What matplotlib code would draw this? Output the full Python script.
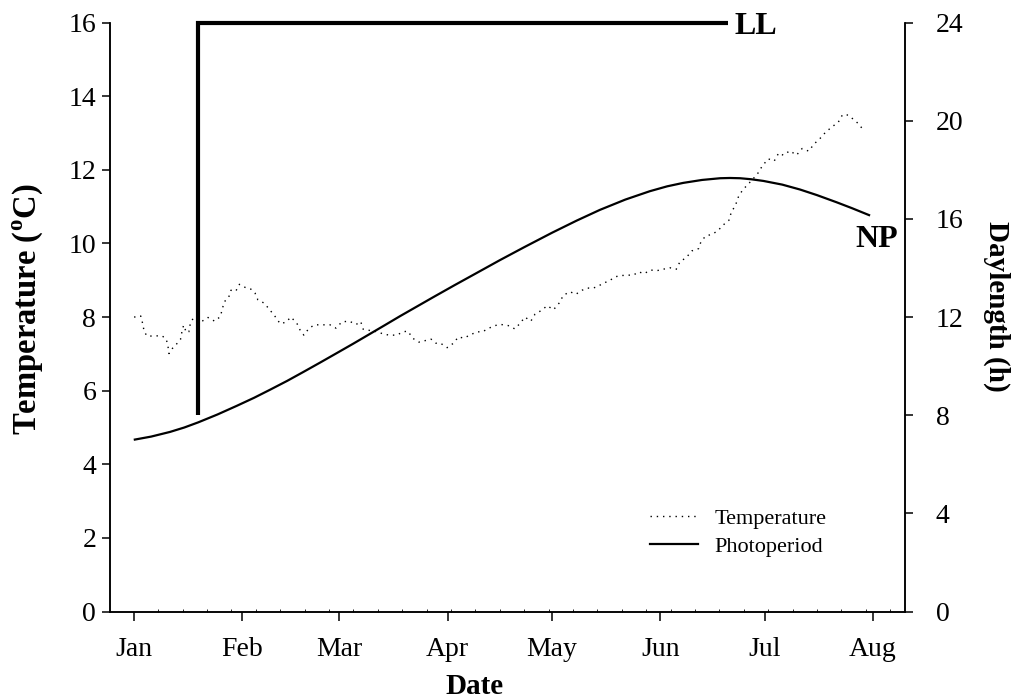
import matplotlib
matplotlib.use("Agg")
import matplotlib.pyplot as plt
from matplotlib.lines import Line2D
from matplotlib.ticker import MultipleLocator

plt.rcParams["font.family"] = ["Liberation Serif", "DejaVu Serif"]
plt.rcParams["mathtext.fontset"] = "custom"
plt.rcParams["mathtext.rm"] = "Liberation Serif:bold"

# Day of year (0 = 1 January) and daily mean water temperature (°C)
temp_day = [0.1, 2.0, 2.6, 3.0, 3.9, 5.9, 8.1, 9.3, 9.8, 10.1, 11.1, 12.3, 13.4, 13.8,
            14.3, 15.1, 15.8, 16.2, 17.2, 19.8, 21.3, 23.2, 24.8, 25.4, 25.9, 27.2, 27.9,
            29.3, 30.3, 32.1, 33.6, 34.8, 35.6, 37.4, 39.0, 40.6, 42.0, 43.6, 45.1, 46.8,
            47.8, 48.8, 50.3, 51.9, 53.9, 56.3, 58.0, 59.7, 61.8, 63.8, 65.1, 65.8, 69.9,
            71.6, 73.3, 75.4, 77.3, 78.6, 80.1, 81.8, 83.6, 85.3, 86.7, 88.0, 89.9, 91.7,
            93.1, 94.7, 96.4, 98.4, 100.0, 101.9, 103.6, 105.3, 107.4, 109.3, 110.8, 112.2,
            113.9, 115.1, 116.9, 118.6, 120.4, 122.1, 123.2, 125.1, 126.8, 128.6, 130.2,
            131.5, 133.0, 134.5, 136.4, 138.3, 140.0, 141.8, 143.3, 144.8, 146.4, 148.2,
            150.0, 151.8, 153.8, 155.6, 156.7, 158.4, 160.1, 162.0, 162.7, 164.0, 165.8,
            167.5, 168.9, 170.7, 171.4, 172.6, 173.4, 174.6, 176.2, 177.6, 179.1, 180.3,
            182.0, 183.7, 185.0, 186.3, 188.2, 190.1, 191.7, 193.6, 195.1, 196.9, 198.5,
            200.3, 202.1, 203.3, 204.9, 206.2, 207.8, 209.4]
temp_val = [8.00, 8.03, 7.81, 7.60, 7.48, 7.49, 7.49, 7.41, 7.22, 7.01, 7.15, 7.27, 7.39, 7.59,
            7.78, 7.58, 7.60, 7.81, 8.00, 7.90, 7.99, 7.89, 8.01, 8.21, 8.41, 8.53, 8.73,
            8.71, 8.89, 8.80, 8.76, 8.65, 8.47, 8.38, 8.20, 8.01, 7.82, 7.86, 8.00, 7.83,
            7.63, 7.51, 7.70, 7.79, 7.79, 7.79, 7.70, 7.87, 7.89, 7.80, 7.88, 7.67, 7.60,
            7.54, 7.51, 7.51, 7.60, 7.62, 7.42, 7.32, 7.36, 7.40, 7.29, 7.29, 7.17, 7.29,
            7.46, 7.43, 7.51, 7.60, 7.60, 7.70, 7.77, 7.80, 7.77, 7.68, 7.83, 8.00,
            7.89, 8.08, 8.18, 8.31, 8.20, 8.39, 8.59, 8.69, 8.62, 8.73, 8.79,
            8.78, 8.83, 8.91, 8.99, 9.10, 9.13, 9.14, 9.14, 9.23, 9.18, 9.28,
            9.26, 9.30, 9.34, 9.30, 9.51, 9.61, 9.80, 9.86, 10.05, 10.20, 10.25,
            10.34, 10.49, 10.63, 10.85, 11.04, 11.26, 11.45, 11.61, 11.75, 11.92, 12.11,
            12.30, 12.24, 12.46, 12.40, 12.52, 12.40, 12.58, 12.51, 12.70, 12.86, 13.03,
            13.17, 13.30, 13.50, 13.49, 13.39, 13.26, 13.07]

# Natural photoperiod (h of daylight)
photo_day = [0, 5, 10.4, 14.5, 18.5, 24, 29.5, 34.5, 39.1, 44, 48.6, 53.5, 58.2, 63, 67.8,
             72, 76.4, 81.2, 86, 92, 98, 105, 112, 120, 127, 133.7, 141, 148, 153,
             157.6, 163, 168.2, 171, 173.9, 177, 180.6, 186, 191.1, 196, 201.6, 206, 211.2]
photo_hours = [7.00, 7.13, 7.32, 7.50, 7.71, 8.03, 8.38, 8.71, 9.04, 9.40, 9.76, 10.15, 10.53,
               10.92, 11.32, 11.67, 12.04, 12.43, 12.82, 13.30, 13.77, 14.32, 14.85, 15.44,
               15.93, 16.37, 16.79, 17.13, 17.33, 17.47, 17.59, 17.66, 17.67, 17.66, 17.62,
               17.55, 17.40, 17.20, 16.97, 16.68, 16.44, 16.14]

# Continuous light (LL) treatment: switched on at day 18.5, lasting until day 170.5
ll_day = [18.5, 18.5, 170.5]
ll_hours = [8, 24, 24]

month_days = [0, 31, 59, 90, 120, 151, 181, 212]
month_labels = ["Jan", "Feb", "Mar", "Apr", "May", "Jun", "Jul", "Aug"]
temp_ticks = [0, 2, 4, 6, 8, 10, 12, 14, 16]
hour_ticks = [0, 4, 8, 12, 16, 20, 24]

fig = plt.figure(figsize=(10.16, 7.0), dpi=100)
ax = fig.add_axes([0.1083, 0.1264, 0.7824, 0.8412])
ax2 = ax.twinx()

ax.plot(temp_day, temp_val, color="black", lw=1.0, linestyle=(0, (1, 3.5)))
ax2.plot(photo_day, photo_hours, color="black", lw=1.6, solid_capstyle="butt")
ax2.plot(ll_day, ll_hours, color="black", lw=3.0, clip_on=False,
         solid_joinstyle="miter", solid_capstyle="butt")

ax2.text(172.4, 23.85, "LL", fontsize=23, fontweight="bold", ha="left", va="center")
ax2.text(206.9, 15.17, "NP", fontsize=23, fontweight="bold", ha="left", va="center")

ax.set_xlim(-6.8, 221.2)
ax.set_ylim(0, 16)
ax2.set_ylim(0, 24)

ax.set_xticks(month_days)
ax.set_xticklabels(month_labels)
ax.xaxis.set_minor_locator(MultipleLocator(7))
ax.set_yticks(temp_ticks)
ax2.set_yticks(hour_ticks)

for a in (ax, ax2):
    a.spines["top"].set_visible(False)
    for s in a.spines.values():
        s.set_linewidth(1.1)

ax.tick_params(axis="x", which="major", direction="out", length=6.5, width=1.1,
               labelsize=20, pad=12)
ax.tick_params(axis="x", which="minor", direction="in", length=2.5, width=0.6)
ax.tick_params(axis="y", direction="out", length=6, width=1.1, labelsize=20, pad=4)
ax2.tick_params(axis="y", direction="out", length=6, width=1.1, labelsize=20, pad=16)

fig.text(28 / 1016, 1 - 309 / 700, "Temperature ($^{\\mathrm{o}}$C)", fontsize=23.5,
         fontweight="bold", rotation=90, ha="center", va="center")
fig.text(997 / 1016, 1 - 306 / 700, "Daylength (h)", fontsize=21,
         fontweight="bold", rotation=270, ha="center", va="center")
fig.text(474 / 1016, 1 - 686 / 700, "Date", fontsize=21, fontweight="bold",
         ha="center", va="center")

handles = [
    Line2D([], [], color="black", lw=1.0, linestyle=(0, (1, 3.5))),
    Line2D([], [], color="black", lw=1.6),
]
ax.legend(handles, ["Temperature", "Photoperiod"], loc="upper left",
          bbox_to_anchor=(0.6398, 0.2736), bbox_transform=fig.transFigure,
          frameon=False, fontsize=16, handlelength=2.15, handletextpad=0.75,
          labelspacing=0.34, borderpad=0, borderaxespad=0)

fig.savefig("out.png", dpi=100)
